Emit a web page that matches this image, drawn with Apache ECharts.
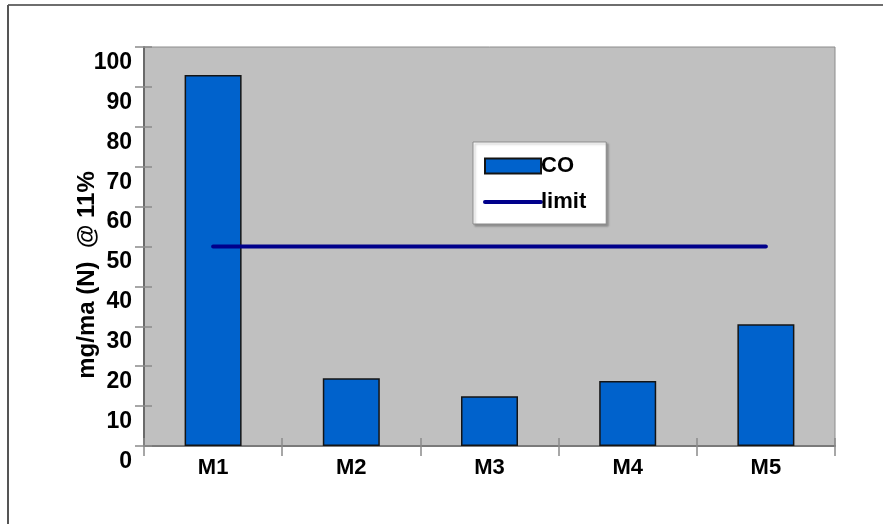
<!DOCTYPE html>
<html>
<head>
<meta charset="utf-8">
<script src="https://cdn.jsdelivr.net/npm/echarts@6/dist/echarts.min.js"></script>
<style>
  html, body { margin: 0; padding: 0; background: #fff; }
  #chart { width: 883px; height: 524px; }
</style>
</head>
<body>
<div id="chart"></div>
<script>
// Measurement points and CO concentrations
const categories = ['M1', 'M2', 'M3', 'M4', 'M5'];
const coValues = [93, 17, 12.5, 16.3, 30.5];
const limitValues = [50, 50, 50, 50, 50];
const yTicks = { min: 0, max: 100, interval: 10 };
const yAxisTitle = 'mg/ma (N)  @ 11%';

const FONT = 'Liberation Sans, Arial, sans-serif';

const chart = echarts.init(document.getElementById('chart'), null, { renderer: 'canvas' });

const grid = { left: 144, top: 47, right: 48, bottom: 78 };

chart.setOption({
  animation: false,
  backgroundColor: '#ffffff',
  grid: Object.assign({
    show: true,
    backgroundColor: '#c0c0c0',
    borderColor: '#8c8c8c',
    borderWidth: 1
  }, grid),
  legend: {
    orient: 'vertical',
    left: 473,
    top: 142,
    backgroundColor: '#ffffff',
    borderColor: '#8a8a8a',
    borderWidth: 1,
    shadowColor: 'rgba(0,0,0,0.25)',
    shadowBlur: 2,
    shadowOffsetX: 2,
    shadowOffsetY: 2,
    padding: [13, 20, 11, 10],
    itemWidth: 56,
    itemHeight: 15,
    itemGap: 14,
    textStyle: {
      fontFamily: FONT,
      fontWeight: 'bold',
      fontSize: 22,
      color: '#000',
      padding: [0, 0, 0, -5]
    },
    data: [
      { name: 'CO', icon: 'rect' },
      // line-only key: hide the marker dot, keep a thick stroke
      {
        name: 'limit',
        itemStyle: { opacity: 0 },
        lineStyle: { width: 4, color: '#00008b', cap: 'round' }
      }
    ]
  },
  xAxis: [
    {
      type: 'category',
      data: categories,
      boundaryGap: true,
      axisLine: { show: true, lineStyle: { color: '#7a7a7a', width: 2 } },
      axisTick: { show: true, alignWithLabel: false, length: 10, lineStyle: { color: '#8a8a8a', width: 1.5 } },
      axisLabel: {
        fontFamily: FONT,
        fontWeight: 'bold',
        fontSize: 22,
        color: '#000',
        margin: 11
      },
      splitLine: { show: false }
    },
    {
      type: 'category',
      data: categories,
      position: 'bottom',
      boundaryGap: true,
      axisLine: { show: false },
      axisTick: { show: true, inside: true, length: 8, lineStyle: { color: '#8a8a8a', width: 1.5 } },
      axisLabel: { show: false },
      splitLine: { show: false }
    }
  ],
  yAxis: [
    {
      type: 'value',
      min: yTicks.min,
      max: yTicks.max,
      interval: yTicks.interval,
      axisLine: { show: true, lineStyle: { color: '#6a6a6a', width: 2 } },
      axisTick: { show: true, length: 9, lineStyle: { color: '#8a8a8a', width: 1.5 } },
      axisLabel: {
        fontFamily: FONT,
        fontWeight: 'bold',
        fontSize: 23,
        color: '#000',
        margin: 12,
        verticalAlign: 'top',
        padding: [4, 0, 0, 0]
      },
      splitLine: { show: false }
    },
    {
      type: 'value',
      position: 'left',
      min: yTicks.min,
      max: yTicks.max,
      interval: yTicks.interval,
      axisLine: { show: false },
      axisTick: { show: true, inside: true, length: 8, lineStyle: { color: '#8a8a8a', width: 1.5 } },
      axisLabel: { show: false },
      splitLine: { show: false }
    }
  ],
  series: [
    {
      name: 'CO',
      type: 'bar',
      data: coValues,
      barWidth: 57,
      itemStyle: {
        color: '#0062cc',
        borderColor: '#141414',
        borderWidth: 1.5
      },
      z: 2
    },
    {
      name: 'limit',
      type: 'line',
      data: limitValues,
      symbol: 'none',
      lineStyle: { color: '#00008b', width: 4, cap: 'round' },
      itemStyle: { color: '#00008b' },
      z: 3
    }
  ],
  graphic: [
    // frame lines along the top and left edges of the figure
    {
      type: 'line',
      shape: { x1: 8, y1: 5, x2: 883, y2: 5 },
      style: { stroke: '#6e6e6e', lineWidth: 2 }
    },
    {
      type: 'line',
      shape: { x1: 8, y1: 5, x2: 8, y2: 524 },
      style: { stroke: '#555555', lineWidth: 2 }
    },
    {
      type: 'text',
      x: 87,
      y: 275,
      rotation: Math.PI / 2,
      style: {
        text: yAxisTitle,
        fontFamily: FONT,
        fontWeight: 'bold',
        fontSize: 24,
        fill: '#000',
        align: 'center',
        verticalAlign: 'middle'
      }
    }
  ]
});
</script>
</body>
</html>
